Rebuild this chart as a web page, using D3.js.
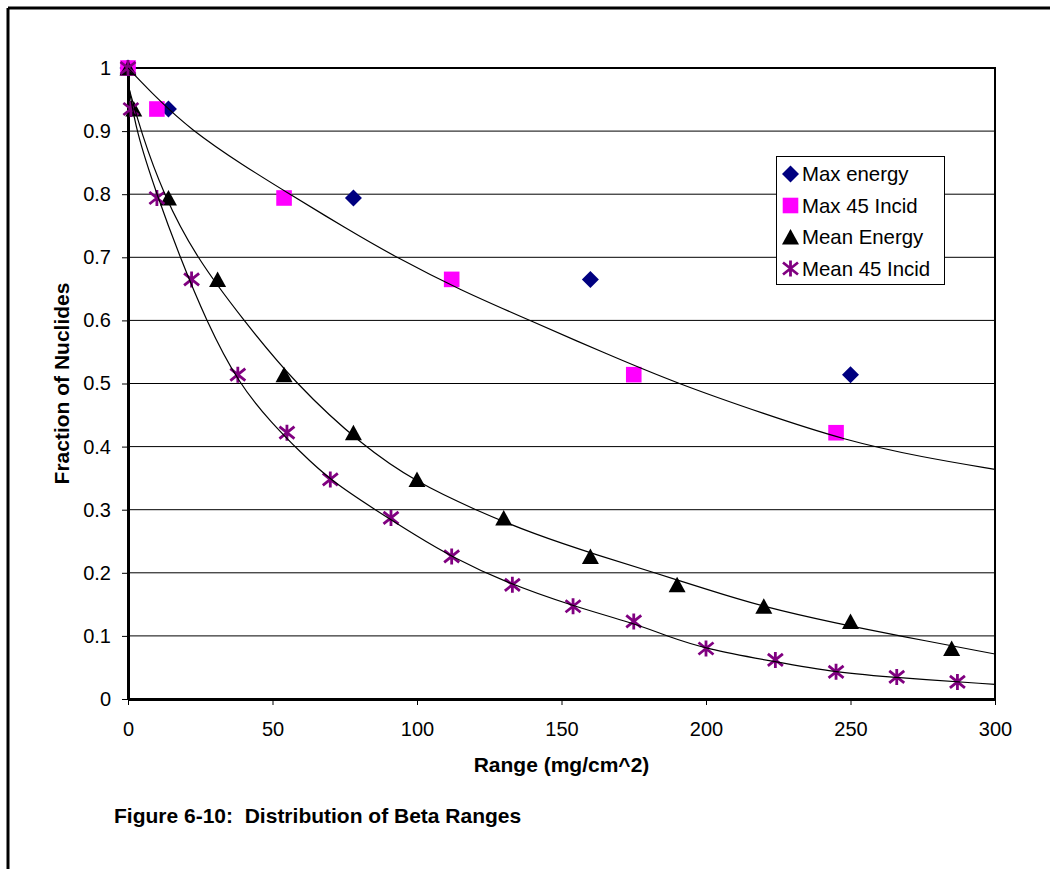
<!DOCTYPE html>
<html><head><meta charset="utf-8">
<script src="https://cdn.jsdelivr.net/npm/d3@7"></script>
<style>
html,body{margin:0;padding:0;background:#fff;}
svg text{font-family:"Liberation Sans",Arial,sans-serif;}
</style></head>
<body>
<svg id="c" width="1050" height="869"></svg>
<script>
// ---- data ----
const seriesNames = ["Max energy", "Max 45 Incid", "Mean Energy", "Mean 45 Incid"];

const maxEnergyX = [0, 14, 78, 160, 250];
const maxEnergyY = [1, 0.935, 0.794, 0.665, 0.514];

const max45X = [0, 10, 54, 112, 175, 245];
const max45Y = [1, 0.935, 0.794, 0.665, 0.514, 0.422];

const meanEnergyX = [0, 2, 14, 31, 54, 78, 100, 130, 160, 190, 220, 250, 285];
const meanEnergyY = [1, 0.935, 0.794, 0.665, 0.514, 0.422, 0.348, 0.287, 0.226, 0.181, 0.147, 0.123, 0.08];

const mean45X = [0, 1, 10, 22, 38, 55, 70, 91, 112, 133, 154, 175, 200, 224, 245, 266, 287];
const mean45Y = [1, 0.935, 0.794, 0.665, 0.514, 0.422, 0.348, 0.287, 0.226, 0.181, 0.147, 0.123, 0.08, 0.062, 0.043, 0.035, 0.027];

// trend lines
const trendMax45X = [0, 10, 21.5, 40, 56, 75, 92.7, 115, 139, 165, 190, 220, 248, 275, 300];
const trendMax45Y = [1, 0.952, 0.903, 0.845, 0.8, 0.747, 0.7, 0.648, 0.6, 0.548, 0.5, 0.452, 0.41, 0.383, 0.364];

const trendMeanEnergyX = [0.45, 4.4, 12.2, 23.5, 40, 57.8, 81.4, 100, 120, 140, 163.3, 182.4, 200, 219.8, 245, 267, 300];
const trendMeanEnergyY = [0.966, 0.9, 0.8, 0.7, 0.6, 0.5, 0.4, 0.343, 0.3, 0.262, 0.2266, 0.2, 0.174, 0.146, 0.12, 0.1, 0.0713];

const trendMean45X = [0.45, 2.8, 9.9, 18, 27, 38.2, 50, 59.5, 69.9, 85.5, 100, 112, 130, 154.1, 175, 186.4, 199.7, 223.9, 245.2, 266, 300];
const trendMean45Y = [0.966, 0.9, 0.8, 0.7, 0.6, 0.5, 0.436, 0.392, 0.347, 0.3, 0.258, 0.2255, 0.186, 0.147, 0.12, 0.1, 0.0795, 0.059, 0.0417, 0.0338, 0.0232];

const xTicks = [0, 50, 100, 150, 200, 250, 300];
const xTickLabels = ["0", "50", "100", "150", "200", "250", "300"];
const yTicks = [0, 0.1, 0.2, 0.3, 0.4, 0.5, 0.6, 0.7, 0.8, 0.9, 1];
const yTickLabels = ["0", "0.1", "0.2", "0.3", "0.4", "0.5", "0.6", "0.7", "0.8", "0.9", "1"];

const xTitle = "Range (mg/cm^2)";
const yTitle = "Fraction of Nuclides";
const caption = "Figure 6-10:  Distribution of Beta Ranges";

// ---- drawing ----
const svg = d3.select("#c");
const L = 128, R = 995, T = 68, B = 699;
const x = d3.scaleLinear().domain([0, 300]).range([L, R]);
const y = d3.scaleLinear().domain([0, 1]).range([B, T]);

// outer page frame (top and left)
svg.append("line").attr("x1", 8).attr("x2", 1050).attr("y1", 8).attr("y2", 8)
  .attr("stroke", "#000").attr("stroke-width", 3);
svg.append("line").attr("x1", 8).attr("x2", 8).attr("y1", 8).attr("y2", 869)
  .attr("stroke", "#000").attr("stroke-width", 3);

// gridlines
svg.append("g").selectAll("line").data(yTicks.filter(d => d > 0 && d < 1)).join("line")
  .attr("x1", L).attr("x2", R).attr("y1", d => y(d)).attr("y2", d => y(d))
  .attr("stroke", "#000").attr("stroke-width", 1);

// plot border
svg.append("rect").attr("x", L).attr("y", T).attr("width", R - L).attr("height", B - T)
  .attr("fill", "none").attr("stroke", "#000").attr("stroke-width", 2);

// axes
const yAxis = d3.axisLeft(y).tickValues(yTicks).tickFormat((d, i) => yTickLabels[i])
  .tickSizeInner(6).tickSizeOuter(0).tickPadding(11);
const gy = svg.append("g").attr("transform", `translate(${L},0)`).call(yAxis);
gy.select(".domain").attr("stroke-width", 3);
gy.selectAll(".tick line").attr("stroke-width", 1);
gy.selectAll("text").attr("font-size", 20).attr("fill", "#000")
  .attr("font-family", '"Liberation Sans",Arial,sans-serif');

const xAxis = d3.axisBottom(x).tickValues(xTicks).tickFormat((d, i) => xTickLabels[i])
  .tickSizeInner(6).tickSizeOuter(0).tickPadding(17);
const gx = svg.append("g").attr("transform", `translate(0,${B})`).call(xAxis);
gx.select(".domain").attr("stroke-width", 3);
gx.selectAll(".tick line").attr("stroke-width", 1);
gx.selectAll("text").attr("font-size", 20).attr("fill", "#000")
  .attr("font-family", '"Liberation Sans",Arial,sans-serif');

// marker shapes
const shapes = {
  diamond: "M0,-8.5L8.5,0L0,8.5L-8.5,0Z",
  square: "M-7.8,-7.8H7.8V7.8H-7.8Z",
  triangle: "M0,-8L8.5,7.5L-8.5,7.5Z",
  star: "M0,-8V8M-7.5,-6L7.5,6M-7.5,6L7.5,-6"
};
const styles = [
  {shape: "diamond", fill: "#000080", stroke: "none"},
  {shape: "square", fill: "#FF00FF", stroke: "none"},
  {shape: "triangle", fill: "#000000", stroke: "none"},
  {shape: "star", fill: "none", stroke: "#800080"}
];
const seriesData = [
  d3.zip(maxEnergyX, maxEnergyY),
  d3.zip(max45X, max45Y),
  d3.zip(meanEnergyX, meanEnergyY),
  d3.zip(mean45X, mean45Y)
];

function drawMarker(g, st, cx, cy) {
  g.append("path").attr("d", shapes[st.shape])
    .attr("transform", `translate(${cx},${cy})`)
    .attr("fill", st.fill).attr("stroke", st.stroke)
    .attr("stroke-width", st.stroke === "none" ? 0 : 2.8);
}

const gm = svg.append("g");
seriesData.forEach((pts, i) => {
  pts.forEach(p => drawMarker(gm, styles[i], x(p[0]), y(p[1])));
});

// trend lines
svg.append("clipPath").attr("id", "clip").append("rect")
  .attr("x", L).attr("y", T - 2).attr("width", R - L).attr("height", B - T + 2);
const line = d3.line().x(d => x(d[0])).y(d => y(d[1])).curve(d3.curveBasis);
const trends = [
  d3.zip(trendMax45X, trendMax45Y),
  d3.zip(trendMeanEnergyX, trendMeanEnergyY),
  d3.zip(trendMean45X, trendMean45Y)
];
svg.append("g").attr("clip-path", "url(#clip)").selectAll("path").data(trends).join("path")
  .attr("d", line).attr("fill", "none").attr("stroke", "#000").attr("stroke-width", 1.2);

// legend
const lg = svg.append("g");
lg.append("rect").attr("x", 776.5).attr("y", 156.5).attr("width", 168).attr("height", 128)
  .attr("fill", "#fff").attr("stroke", "#000").attr("stroke-width", 1);
const rowY = [174, 205.5, 237, 268.5];
seriesNames.forEach((n, i) => {
  drawMarker(lg, styles[i], 790.5, rowY[i]);
  lg.append("text").attr("x", 802).attr("y", rowY[i] + 7.3).attr("font-size", 20.4)
    .attr("fill", "#000").text(n);
});

// titles
svg.append("text").attr("x", (L + R) / 2).attr("y", 772).attr("text-anchor", "middle")
  .attr("font-size", 21).attr("font-weight", "bold").text(xTitle);
svg.append("text").attr("transform", `translate(69,${(T + B) / 2}) rotate(-90)`)
  .attr("text-anchor", "middle").attr("font-size", 21).attr("font-weight", "bold").text(yTitle);
svg.append("text").attr("x", 114).attr("y", 823).attr("font-size", 21).attr("font-weight", "bold")
  .style("white-space", "pre").text(caption);
</script>
</body></html>
